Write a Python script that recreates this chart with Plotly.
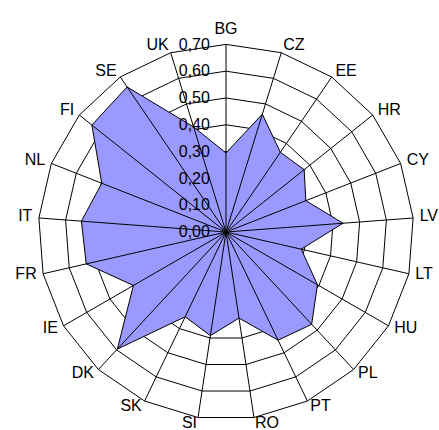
import plotly.graph_objects as go

categories = ["BG", "CZ", "EE", "HR", "CY", "LV", "LT", "HU", "PL", "PT", "RO",
              "SI", "SK", "DK", "IE", "FR", "IT", "NL", "FI", "SE", "UK"]
values = [0.295, 0.46, 0.36, 0.373, 0.32, 0.438, 0.288, 0.394, 0.47, 0.448, 0.325,
          0.391, 0.351, 0.596, 0.399, 0.535, 0.541, 0.498, 0.64, 0.655, 0.41]
r_max = 0.70
tick_vals = [0.0, 0.1, 0.2, 0.3, 0.4, 0.5, 0.6, 0.7]

# label placement style (Excel-like: labels beside the outer vertices)
n = len(categories)
label_pos = (["top center"] + ["middle right"] * 10 + ["middle left"] * 10)
pad = 1.05                      # radial head-room so the labels stay inside the range
label_r = [r_max * 1.035] * n

fig = go.Figure()
fig.add_trace(go.Scatterpolar(
    r=values + values[:1], theta=categories + categories[:1],
    mode="lines", fill="toself", fillcolor="#9999FF",
    line=dict(color="black", width=1), hoverinfo="skip", showlegend=False))

# spokes drawn above the fill, as in the reference
sr, st = [], []
for c in categories:
    sr += [0, r_max, None]
    st += [c, c, None]
fig.add_trace(go.Scatterpolar(r=sr, theta=st, mode="lines",
                              line=dict(color="black", width=1),
                              hoverinfo="skip", showlegend=False))

# category labels
fig.add_trace(go.Scatterpolar(r=label_r, theta=categories, mode="text",
                              text=categories, textposition=label_pos,
                              textfont=dict(size=16, color="black"),
                              cliponaxis=False, hoverinfo="skip",
                              showlegend=False))

R = 188 * pad
cx, cy = 226, 232
fig.update_layout(
    width=439, height=430,
    margin=dict(l=cx - R, r=439 - cx - R, t=cy - R, b=430 - cy - R),
    paper_bgcolor="white",
    separators=",.",
    font=dict(family="Liberation Sans, Arial, sans-serif", size=16, color="black"),
    polar=dict(
        bgcolor="white",
        gridshape="linear",
        radialaxis=dict(range=[0, r_max * pad], tickvals=tick_vals, tickformat=".2f",
                        angle=90, tickangle=90, side="counterclockwise",
                        showline=False,
                        gridcolor="black", gridwidth=1,
                        ticks="outside", ticklen=10, tickcolor="rgba(0,0,0,0)",
                        tickfont=dict(size=16, color="black")),
        angularaxis=dict(rotation=90, direction="clockwise",
                         categoryorder="array", categoryarray=categories,
                         showline=False, showgrid=False, ticks="",
                         showticklabels=False),
    ),
)
fig.write_html("out.html", post_script="document.body.style.margin='0';",
               config={"displayModeBar": False})
